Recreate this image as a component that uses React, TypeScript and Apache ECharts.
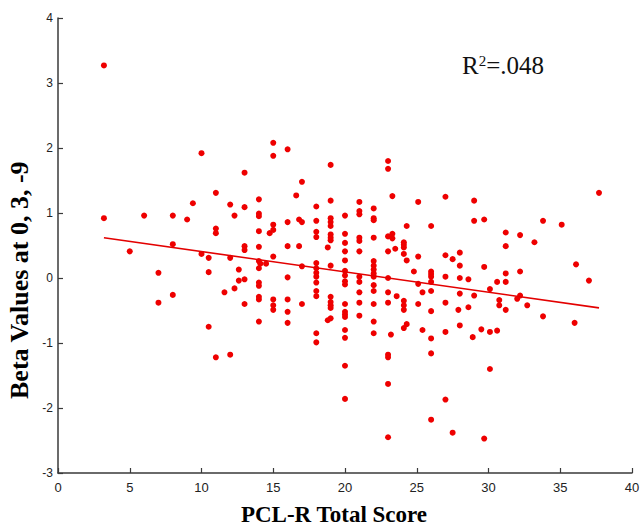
import React, { useEffect, useRef } from "react";
import * as echarts from "echarts";

// PCL-R total score (x) and beta value (y) for each subject
const observations: [number, number][] = [
  [3.2, 3.27], [3.2, 0.92],
  [5, 0.41], [6, 0.96],
  [7, 0.08], [7, -0.38],
  [8, 0.96], [8, 0.52], [8, -0.26],
  [9.4, 1.15], [9, 0.9],
  [10, 1.92], [10, 0.37],
  [10.5, 0.31], [10.5, 0.09], [10.5, -0.75],
  [11, 1.31], [11, 0.76], [11, 0.69], [11, -1.22],
  [11.6, -0.22],
  [12, 1.13], [12, 0.31], [12, -1.18],
  [12.3, 0.96], [12.3, -0.16],
  [12.6, 0.13], [12.6, -0.04],
  [13, 1.62], [13, 1.09], [13, 0.49], [13, 0.43], [13, -0.02], [13, -0.4],
  [14, 1.21], [14, 0.99], [14, 0.95], [14, 0.72], [14, 0.48], [14, 0.26], [14, 0.15],
  [14, -0.07], [14, -0.12], [14, -0.29], [14, -0.33], [14, -0.67],
  [14.1, 0.22], [14.5, 0.22], [14.75, 0.69],
  [15, 2.08], [15, 1.88], [15, 0.82], [15, 0.74], [15, 0.33], [15, -0.33], [15, -0.42], [15, -0.49],
  [16, 1.98], [16, 0.86], [16, 0.49], [16, 0.01], [16, -0.33], [16, -0.52], [16, -0.69],
  [16.6, 1.27], [16.8, 0.9], [16.8, 0.49],
  [17, 1.48], [17, 0.86], [17, 0.18], [17, -0.4],
  [18, 1.1], [18, 0.88], [18, 0.71], [18, 0.63], [18, 0.23], [18, 0.15], [18, 0.08], [18, 0.02],
  [18, -0.07], [18, -0.2], [18, -0.28], [18, -0.85], [18, -0.99],
  [18.8, 0.47], [18.8, -0.65],
  [19, 1.74], [19, 1.19], [19, 0.92], [19, 0.86], [19, 0.8], [19, 0.67], [19, 0.62], [19, 0.58],
  [19, 0.19], [19, -0.29], [19, -0.37], [19, -0.42], [19, -0.46], [19, -0.62],
  [20, 0.96], [20, 0.68], [20, 0.54], [20, 0.41], [20, 0.27], [20, 0.11], [20, 0.04], [20, -0.05],
  [20, -0.1], [20, -0.4], [20, -0.52], [20, -0.56], [20, -0.6], [20, -0.8], [20, -0.92], [20, -1.35], [20, -1.86],
  [21, 1.17], [21, 1.03], [21, 0.98], [21, 0.62], [21, 0.57], [21, 0.41], [21, 0.02], [21, -0.06],
  [21, -0.22], [21, -0.38], [21, -0.58],
  [22, 1.07], [22, 0.92], [22, 0.89], [22, 0.62], [22, 0.26], [22, 0.19], [22, 0.13], [22, 0.07],
  [22, 0.02], [22, -0.11], [22, -0.2], [22, -0.4], [22, -0.67], [22, -0.85],
  [23, 1.8], [23, 1.68], [23, 0.64], [23, 0.41], [23, 0.0], [23, -0.22], [23, -0.38],
  [23, -1.18], [23, -1.22], [23, -1.63], [23, -2.45],
  [23.3, 1.26], [23.3, 0.68], [23.3, 0.61], [23.2, -0.87], [23.5, 0.45], [23.6, -0.28],
  [24.1, 0.55], [24.1, 0.51], [24.1, 0.47], [24.1, 0.37], [24.1, -0.35], [24.1, -0.42], [24.1, -0.49], [24.1, -0.77],
  [24.3, 0.8], [24.3, 0.27], [24.3, -0.71], [24.8, 0.1],
  [25.1, 1.17], [25.1, 0.33], [25.1, -0.09], [25.1, -0.4], [25.4, -0.22], [25.4, -0.8],
  [26, 0.8], [26, 0.1], [26, 0.06], [26, 0.02], [26, -0.06], [26, -0.2], [26, -0.51], [26, -0.93], [26, -1.16], [26, -2.18],
  [27, 1.25], [27, 0.35], [27, 0.02], [27, -0.38], [27, -0.83], [27, -1.87],
  [27.5, 0.29], [27.5, -2.38],
  [28, 0.39], [28, 0.19], [28, 0.0], [28, -0.24], [28, -0.73], [27.9, -0.49],
  [28.6, -0.02], [28.6, -0.45], [28.9, -0.91],
  [29, 1.19], [29, 0.88], [29, -0.27], [29.7, 0.9], [29.7, 0.17], [29.7, -2.47], [29.5, -0.79],
  [30.1, -0.17], [30.1, -0.83], [30.1, -1.4], [30.6, -0.06], [30.6, -0.81], [30.75, -0.34], [30.75, -0.42],
  [31.2, 0.7], [31.2, 0.49], [31.2, 0.07], [31.2, -0.06], [31.2, -0.49],
  [32.2, 0.66], [32.2, 0.1], [32.2, -0.27], [32, -0.32], [32.7, -0.42],
  [33.2, 0.55], [33.8, 0.88], [33.8, -0.59],
  [35.1, 0.82], [36.1, 0.21], [36, -0.69], [37, -0.04], [37.7, 1.31],
];

// fitted regression line end points
const fitX = [3.2, 37.7];
const fitY = [0.62, -0.46];

// axes
const xTicks = [0, 5, 10, 15, 20, 25, 30, 35, 40];
const yTicks = [-3, -2, -1, 0, 1, 2, 3, 4];

const xTitle = "PCL-R Total Score";
const yTitle = "Beta Values at 0, 3, -9";
const rSquared = ".048";

export default function App() {
  const ref = useRef<HTMLDivElement>(null);

  useEffect(() => {
    if (!ref.current) return;
    const chart = echarts.init(ref.current, null, { renderer: "svg" });
    const axisColor = "#3a3a3a";
    const labelFont = "Liberation Sans";
    const titleFont = "Liberation Serif";
    chart.setOption({
      animation: false,
      backgroundColor: "#ffffff",
      grid: { left: 58, right: 12, top: 18, bottom: 54, containLabel: false },
      xAxis: {
        type: "value",
        min: xTicks[0],
        max: xTicks[xTicks.length - 1],
        interval: 5,
        axisLine: { show: true, onZero: false, lineStyle: { color: axisColor, width: 1.5 } },
        axisTick: { show: true, inside: true, length: 5, lineStyle: { color: axisColor, width: 1.2 } },
        axisLabel: { color: "#222", fontFamily: labelFont, fontSize: 13, margin: 8 },
        splitLine: { show: false },
      },
      yAxis: {
        type: "value",
        min: yTicks[0],
        max: yTicks[yTicks.length - 1],
        interval: 1,
        axisLine: { show: true, onZero: false, lineStyle: { color: axisColor, width: 1.5 } },
        axisTick: { show: true, inside: true, length: 5, lineStyle: { color: axisColor, width: 1.2 } },
        axisLabel: { color: "#222", fontFamily: labelFont, fontSize: 12, margin: 5 },
        splitLine: { show: false },
      },
      series: [
        {
          type: "scatter",
          data: observations,
          symbol: "circle",
          symbolSize: 6,
          itemStyle: { color: "#ee0000", opacity: 1 },
          z: 2,
        },
        {
          type: "line",
          data: fitX.map((x, i) => [x, fitY[i]]),
          symbol: "none",
          lineStyle: { color: "#e30000", width: 1.6 },
          z: 3,
        },
      ],
      graphic: [
        {
          type: "text",
          x: 334,
          y: 503,
          style: {
            text: xTitle,
            fontFamily: titleFont,
            fontWeight: "bold",
            fontSize: 23,
            fill: "#000",
            textAlign: "center",
            textVerticalAlign: "top",
          },
        },
        {
          type: "text",
          x: 6,
          y: 399,
          rotation: Math.PI / 2,
          style: {
            text: yTitle,
            fontFamily: titleFont,
            fontWeight: "bold",
            fontSize: 26,
            fill: "#000",
            textAlign: "left",
            textVerticalAlign: "top",
          },
        },
        {
          type: "text",
          x: 462,
          y: 53,
          style: {
            text: "R{sup|2}=" + rSquared,
            fontFamily: titleFont,
            fontSize: 25,
            fill: "#111",
            rich: {
              sup: { fontFamily: titleFont, fontSize: 15, verticalAlign: "top", padding: [0, 0, 8, 0] },
            },
          },
        },
      ],
    });
    return () => chart.dispose();
  }, []);

  return (
    <div
      ref={ref}
      style={{ position: "absolute", left: 0, top: 0, width: 644, height: 527 }}
    />
  );
}
